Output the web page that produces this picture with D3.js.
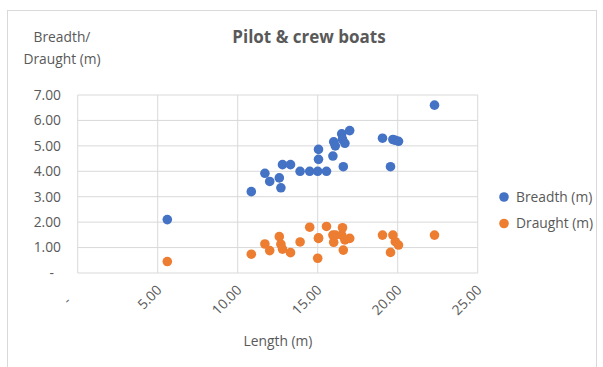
<!DOCTYPE html>
<html>
<head>
<meta charset="utf-8">
<script src="https://cdn.jsdelivr.net/npm/d3@7"></script>
<style>
  html, body { margin: 0; padding: 0; background: #fff; }
  svg { display: block; font-family: "Open Sans", "Noto Sans", sans-serif; }
</style>
</head>
<body>
<svg id="chart" width="603" height="367"></svg>
<script>
// Pilot & crew boats: length vs breadth / draught (metres)
const lengths  = [5.6, 10.85, 11.7, 12.0, 12.6, 12.7, 12.8, 13.3, 13.9, 14.5, 15.0, 15.05, 15.05, 15.55, 15.95, 16.0, 16.1, 16.5, 16.55, 16.7, 16.6, 17.0, 19.05, 19.55, 19.7, 19.85, 20.05, 22.3];
const breadths = [2.1, 3.2, 3.92, 3.6, 3.74, 3.35, 4.26, 4.26, 4.0, 4.0, 4.0, 4.47, 4.86, 4.0, 4.6, 5.16, 5.0, 5.47, 5.26, 5.1, 4.18, 5.6, 5.3, 4.18, 5.25, 5.22, 5.18, 6.6];
const draughts = [0.45, 0.74, 1.14, 0.88, 1.43, 1.13, 0.94, 0.8, 1.22, 1.8, 0.58, 1.36, 1.38, 1.83, 1.49, 1.21, 1.49, 1.49, 1.78, 1.3, 0.9, 1.36, 1.49, 0.81, 1.49, 1.23, 1.1, 1.49];

const xTicks = [0, 5, 10, 15, 20, 25];
const yTicks = [0, 1, 2, 3, 4, 5, 6, 7];
const seriesNames = ["Breadth (m)", "Draught (m)"];
const seriesColors = ["#4472C4", "#ED7D31"];

const fmt = v => v === 0 ? "-" : v.toFixed(2);
const textColor = "#595959";
const gridColor = "#d9d9d9";
const fs = 13.8;

const svg = d3.select("#chart");

// outer chart frame
svg.append("rect")
  .attr("x", 7.5).attr("y", 10.5)
  .attr("width", 589).attr("height", 362)
  .attr("fill", "#fff").attr("stroke", gridColor);

const plot = { left: 77.7, right: 477.7, top: 95, bottom: 273 };

const x = d3.scaleLinear().domain([0, 25]).range([plot.left, plot.right]);
const y = d3.scaleLinear().domain([0, 7]).range([plot.bottom, plot.top]);

// gridlines
const grid = svg.append("g");
grid.selectAll("line.h").data(yTicks).join("line")
  .attr("x1", plot.left).attr("x2", plot.right)
  .attr("y1", d => y(d)).attr("y2", d => y(d))
  .attr("stroke", gridColor).attr("stroke-width", 1);
grid.selectAll("line.v").data(xTicks).join("line")
  .attr("y1", plot.top).attr("y2", plot.bottom)
  .attr("x1", d => x(d)).attr("x2", d => x(d))
  .attr("stroke", gridColor).attr("stroke-width", 1);

// y-axis labels
svg.append("g").selectAll("text").data(yTicks).join("text")
  .attr("x", d => d === 0 ? 54 : 61)
  .attr("y", d => y(d))
  .attr("dy", "0.35em")
  .attr("text-anchor", "end")
  .attr("font-size", fs)
  .attr("fill", textColor)
  .text(fmt);

// x-axis labels, rotated -45°
svg.append("g").selectAll("text").data(xTicks).join("text")
  .attr("text-anchor", "end")
  .attr("font-size", fs)
  .attr("fill", textColor)
  .attr("transform", d => d === 0
    ? `translate(${x(d) - 6},${302}) rotate(-45)`
    : `translate(${x(d) + 5},${291}) rotate(-45)`)
  .text(fmt);

// scatter series
const series = [breadths, draughts];
series.forEach((vals, si) => {
  svg.append("g").selectAll("circle").data(lengths.map((l, i) => [l, vals[i]])).join("circle")
    .attr("cx", d => x(d[0]))
    .attr("cy", d => y(d[1]))
    .attr("r", 4.8)
    .attr("fill", seriesColors[si]);
});

// title
svg.append("text")
  .attr("x", 309).attr("y", 43)
  .attr("text-anchor", "middle")
  .attr("font-size", 17).attr("font-weight", "bold")
  .attr("fill", textColor)
  .text("Pilot & crew boats");

// axis titles
const yTitle = svg.append("text")
  .attr("text-anchor", "middle")
  .attr("font-size", fs)
  .attr("fill", textColor);
yTitle.append("tspan").attr("x", 62).attr("y", 42).text("Breadth/");
yTitle.append("tspan").attr("x", 62).attr("y", 64).text("Draught (m)");

svg.append("text")
  .attr("x", 278).attr("y", 346)
  .attr("text-anchor", "middle")
  .attr("font-size", fs)
  .attr("fill", textColor)
  .text("Length (m)");

// legend
const legend = svg.append("g").selectAll("g").data(seriesNames).join("g")
  .attr("transform", (d, i) => `translate(504,${197 + i * 26.5})`);
legend.append("circle").attr("r", 4.8).attr("fill", (d, i) => seriesColors[i]);
legend.append("text")
  .attr("x", 12).attr("dy", "0.35em")
  .attr("font-size", fs)
  .attr("fill", textColor)
  .text(d => d);
</script>
</body>
</html>
